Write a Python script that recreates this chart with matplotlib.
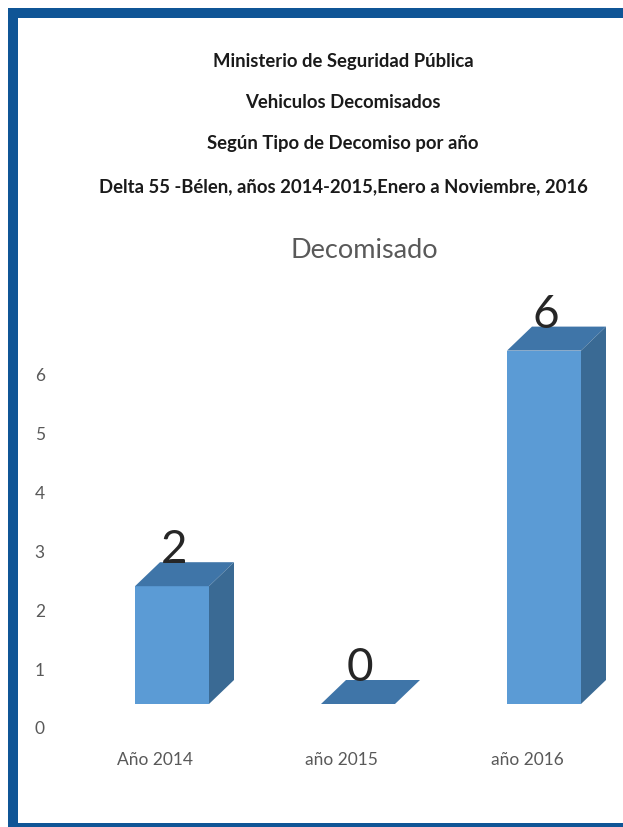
import matplotlib
matplotlib.use("Agg")
import matplotlib.pyplot as plt
from matplotlib.patches import Rectangle
from matplotlib.transforms import ScaledTranslation

# Data
categories = ["Año 2014", "año 2015", "año 2016"]
decomisados = [2, 0, 6]
y_ticks = [0, 1, 2, 3, 4, 5, 6]
title_lines = [
    "Ministerio de Seguridad Pública",
    "Vehiculos Decomisados",
    "Según Tipo de Decomiso por año",
    "Delta 55 -Bélen, años 2014-2015,Enero a Noviembre, 2016",
]

# Colours
BORDER = "#0F5596"
FRONT = "#5B9BD5"
TOP = "#3F75A8"
SIDE = "#3A6A94"
GREY = "#595959"

W, H = 623, 828
plt.rcParams["font.family"] = ["Lato", "DejaVu Sans"]

fig = plt.figure(figsize=(W / 100, H / 100), dpi=100, facecolor="white")


def px_rect(x0, y0, x1, y1):
    # rectangle given in image pixels, y going down
    fig.add_artist(Rectangle((x0 / W, 1 - y1 / H), (x1 - x0) / W, (y1 - y0) / H,
                             transform=fig.transFigure, color=BORDER, lw=0))


px_rect(8, 9, W, 19)
px_rect(8, 9, 18, H)
px_rect(8, 824, W, H)

# Titles
for text, y in zip(title_lines, [62, 103, 144, 187]):
    fig.text(343 / W, 1 - y / H, text, ha="center", va="center",
             fontsize=13.3, fontweight="bold", color="#1a1a1a")
fig.text(364 / W, 1 - 250 / H, "Decomisado", ha="center", va="center",
         fontsize=19.5, color=GREY)

# Axes: y=0 sits at px 705, 58.9 px per unit; categories 186 px apart from px 172
PX_X, PX_Y = 186.0, 58.9
left, right, top, bottom = 60, W, 280, 745
ax = fig.add_axes([left / W, 1 - bottom / H, (right - left) / W, (bottom - top) / H])
ax.set_xlim((left - 172) / PX_X, (right - 172) / PX_X)
ax.set_ylim((705 - bottom) / PX_Y, (705 - top) / PX_Y)
ax.patch.set_alpha(0)
for s in ax.spines.values():
    s.set_visible(False)

BAR_W = 74 / PX_X
DEPTH_X = 25 / PX_X
DEPTH_Y = 24 / PX_Y

xs = range(len(categories))
ax.bar(xs, decomisados, width=BAR_W, color=FRONT, linewidth=0, zorder=2)
for x, v in zip(xs, decomisados):
    l, r = x - BAR_W / 2, x + BAR_W / 2
    # top face
    ax.fill([l, r, r + DEPTH_X, l + DEPTH_X], [v, v, v + DEPTH_Y, v + DEPTH_Y],
            color=TOP, linewidth=0, zorder=2)
    # right side face
    if v > 0:
        ax.fill([r, r + DEPTH_X, r + DEPTH_X, r], [0, DEPTH_Y, v + DEPTH_Y, v],
                color=SIDE, linewidth=0, zorder=2)
    ax.annotate(str(v), (x, v + DEPTH_Y), xytext=(1.5, 0), textcoords="offset points",
                ha="center", va="baseline", fontsize=33, color="#262626", zorder=3)

ax.set_xticks(list(xs))
ax.set_xticklabels(categories)
ax.set_yticks(y_ticks)
ax.tick_params(length=0, labelcolor=GREY, labelsize=12.5)
ax.tick_params(axis="y", pad=11)

# the 3D floor pushes the labels away from the bars
down = ScaledTranslation(0, -23 / 100, fig.dpi_scale_trans)
for lab in ax.get_yticklabels():
    lab.set_transform(lab.get_transform() + down)
shift = ScaledTranslation(-17 / 100, -2 / 100, fig.dpi_scale_trans)
for lab in ax.get_xticklabels():
    lab.set_transform(lab.get_transform() + shift)

fig.savefig("out.png", dpi=100)
plt.close(fig)
